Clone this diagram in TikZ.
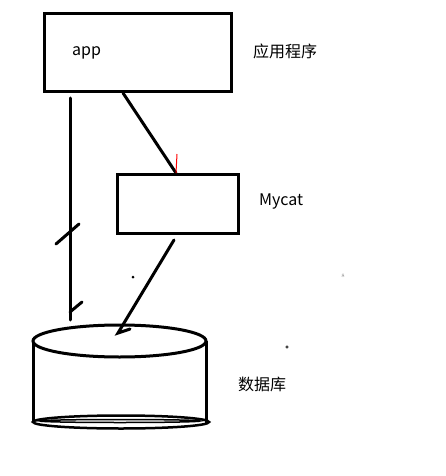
\documentclass[tikz,border=0pt]{standalone}
\usepackage{fontspec}
\newfontfamily\cjk{Noto Sans CJK SC}
\usetikzlibrary{positioning,calc}
\tikzset{
  sketchbox/.style={draw, line width=3pt, inner sep=0pt, anchor=north west},
  sketchline/.style={line width=3pt, line cap=round},
  sidelabel/.style={font=\cjk\fontsize{16}{18}\selectfont, anchor=west, inner sep=0pt},
}
\begin{document}
\begin{tikzpicture}
	\useasboundingbox (0,0) rectangle (445pt,-476pt);
	% boxes
	\node[sketchbox, minimum width=187pt, minimum height=78pt] (app) at (43pt,-12pt) {};
	\node[sketchbox, minimum width=121pt, minimum height=59pt] (mycat) at (116pt,-173pt) {};
	\node[sidelabel] (appname) at (72pt,-53pt) {app};
	\node[sidelabel] (applabel) at (253pt,-51pt) {应用程序};
	\node[sidelabel] (mycatlabel) at (259pt,-202pt) {Mycat};
	\node[sidelabel] (dblabel) at (238pt,-384pt) {数据库};
	% database
	\draw[line width=3pt] (33pt,-341pt) -- (33pt,-423pt);
	\draw[line width=3pt] (206pt,-341pt) -- (206pt,-423pt);
	\draw[line width=3pt, fill=white] (119.5pt,-341pt) ellipse (86.5pt and 16pt);
	\draw[line width=2.5pt] (121pt,-422pt) ellipse (88pt and 6.5pt);
	\draw[line width=1.5pt] (120pt,-421pt) ellipse (80pt and 1.5pt);
	\coordinate (dbtop) at (118pt,-333pt);
	\coordinate (dbleft) at (70pt,-320pt);
	% connectors
	\coordinate (appout) at ($(app.south west)+(80pt,0)$);
	\coordinate (mycatin) at ($(mycat.north west)+(60pt,0)$);
	\coordinate (mycatout) at ($(mycat.south west)+(58pt,-5pt)$);
	\draw[sketchline] (appout) -- (mycatin);
	\draw[red, line width=1pt] ($(mycatin)+(1pt,19pt)$) -- (mycatin);
	\draw[sketchline] (mycatout) -- (dbtop) -- (130pt,-329pt);
	\draw[sketchline] (70pt,-98pt) -- (dbleft);
	\draw[sketchline] (56pt,-244pt) -- (79pt,-224pt);
	\draw[sketchline] (70pt,-312pt) -- (82pt,-302pt);
	% stray marks
	\fill (133pt,-277pt) circle (1.5pt);
	\draw[line width=0.6pt] (287pt,-347pt) circle (1.3pt);
	\node[font=\tiny, gray, inner sep=0pt] (mark) at (343pt,-276pt) {8};
\end{tikzpicture}
\end{document}
